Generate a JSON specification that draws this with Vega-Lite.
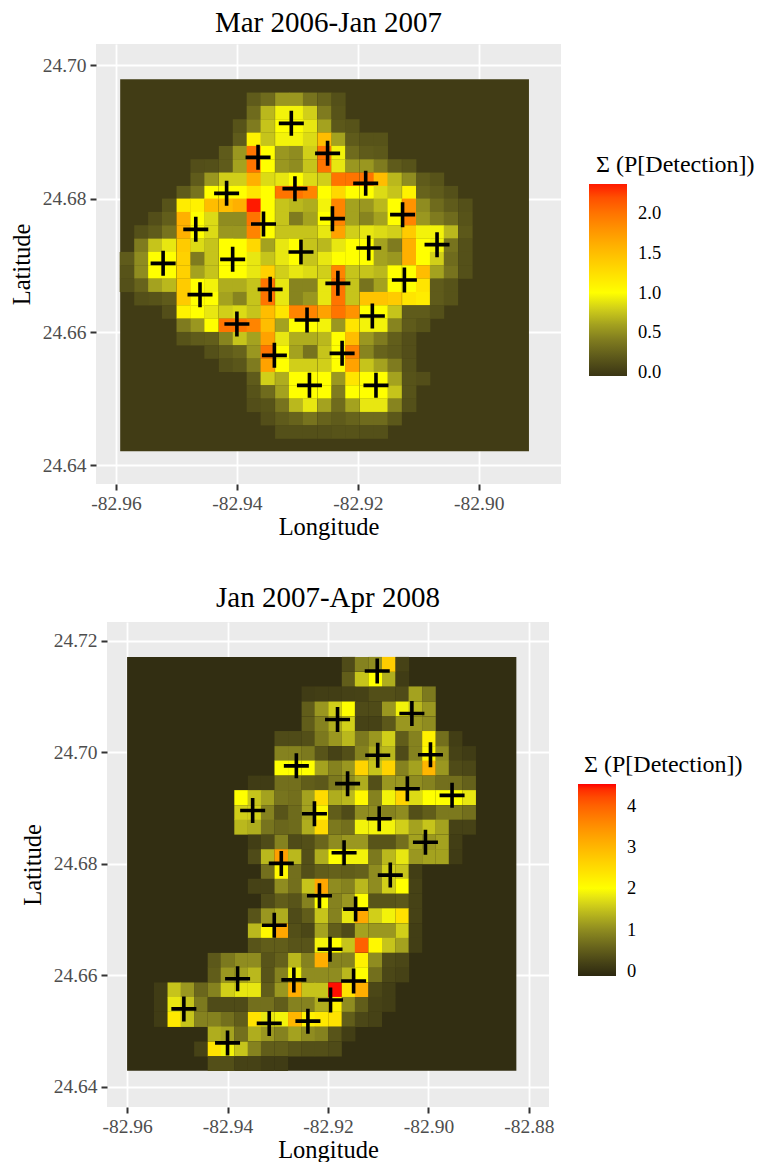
{"$schema":"https://vega.github.io/schema/vega-lite/v6.json","background":"white","padding":{"left":8,"top":9,"right":0,"bottom":0},
"config":{"font":"Liberation Serif","view":{"stroke":null,"fill":"#EBEBEB"},"title":{"font":"Liberation Serif","fontSize":29,"fontWeight":"normal","color":"black","anchor":"middle","offset":6},
"axis":{"labelFont":"Liberation Serif","titleFont":"Liberation Serif","labelFontSize":19.5,"titleFontSize":24.5,"titleFontWeight":"normal","labelColor":"#4D4D4D","titleColor":"black","tickColor":"#333333","tickSize":6,"tickWidth":2,"domain":false,"grid":true,"gridColor":"white","gridWidth":1.8,"labelPadding":4},
"legend":{"labelFont":"Liberation Serif","titleFont":"Liberation Serif","labelFontSize":18.5,"titleFontSize":24,"titleFontWeight":"normal","labelColor":"black","titleColor":"black"}},
"spacing":45,
"resolve":{"scale":{"color":"independent"},"legend":{"color":"independent"}},
"vconcat":[
{"spacing":0,"hconcat":[
{"width":1,"height":1,"data":{"values":[]},"mark":{"type":"point","opacity":0},"encoding":{},"view":{"fill":null}},
{
"title":"Mar 2006-Jan 2007","width":465,"height":440,
"encoding":{"x":{"field":"lon","type":"quantitative","title":"Longitude","scale":{"domain":[-82.9633,-82.8864],"nice":false,"zero":false},"axis":{"values":[-82.96,-82.94,-82.92,-82.90],"titlePadding":3,"labelExpr":"'-' + format(abs(datum.value),'.2f')"}},"y":{"field":"lat","type":"quantitative","title":"Latitude","scale":{"domain":[24.6372,24.7032],"nice":false,"zero":false},"axis":{"values":[24.64,24.66,24.68,24.70],"titlePadding":8,"format":".2f"}}},
"layer":[
{"data":{"values":[{"lon":-82.9593,"lonEnd":-82.8917,"lat":24.6421,"latEnd":24.6979,"v":0}]},"mark":{"type":"rect"},"encoding":{"x2":{"field":"lonEnd"},"y2":{"field":"latEnd"},"color":{"field":"v","type":"quantitative","scale":{"domain":[-0.05,0.5,1,2.37],"range":["#3a3514","#8f8c20","#ffff00","#ff1a00"],"interpolate":"lab"},"legend":{"title":"Σ (P[Detection])","orient":"none","legendX":581,"legendY":109,"gradientLength":192,"gradientThickness":38,"values":[0,0.5,1,1.5,2],"format":".1f","titlePadding":7,"labelOffset":11,"encoding":{"title":{"dx":{"value":7}}}}}}},
{"data":{"values":[
{"lon":-82.9372,"lat":24.6949,"v":0.2},{"lon":-82.9349,"lat":24.6949,"v":0.3},{"lon":-82.9325,"lat":24.6949,"v":0.55},{"lon":-82.9302,"lat":24.6949,"v":0.55},{"lon":-82.9279,"lat":24.6949,"v":0.35},{"lon":-82.9255,"lat":24.6949,"v":0.25},{"lon":-82.9232,"lat":24.6949,"v":0.13},
{"lon":-82.9372,"lat":24.6929,"v":0.3},{"lon":-82.9349,"lat":24.6929,"v":0.7},{"lon":-82.9325,"lat":24.6929,"v":0.95},{"lon":-82.9302,"lat":24.6929,"v":0.95},{"lon":-82.9279,"lat":24.6929,"v":0.8},{"lon":-82.9255,"lat":24.6929,"v":0.4},{"lon":-82.9232,"lat":24.6929,"v":0.15},
{"lon":-82.9395,"lat":24.6909,"v":0.15},{"lon":-82.9372,"lat":24.6909,"v":0.4},{"lon":-82.9349,"lat":24.6909,"v":0.75},{"lon":-82.9325,"lat":24.6909,"v":1},{"lon":-82.9302,"lat":24.6909,"v":1},{"lon":-82.9279,"lat":24.6909,"v":0.9},{"lon":-82.9255,"lat":24.6909,"v":0.6},{"lon":-82.9232,"lat":24.6909,"v":0.18},{"lon":-82.9209,"lat":24.6909,"v":0.15},
{"lon":-82.9395,"lat":24.6889,"v":0.2},{"lon":-82.9372,"lat":24.6889,"v":1.1},{"lon":-82.9349,"lat":24.6889,"v":0.75},{"lon":-82.9325,"lat":24.6889,"v":0.95},{"lon":-82.9302,"lat":24.6889,"v":0.95},{"lon":-82.9279,"lat":24.6889,"v":0.85},{"lon":-82.9255,"lat":24.6889,"v":1.5},{"lon":-82.9232,"lat":24.6889,"v":0.6},{"lon":-82.9209,"lat":24.6889,"v":0.2},{"lon":-82.9185,"lat":24.6889,"v":0.15},{"lon":-82.9162,"lat":24.6889,"v":0.15},
{"lon":-82.9418,"lat":24.6869,"v":0.2},{"lon":-82.9395,"lat":24.6869,"v":0.55},{"lon":-82.9372,"lat":24.6869,"v":2},{"lon":-82.9349,"lat":24.6869,"v":1},{"lon":-82.9325,"lat":24.6869,"v":0.55},{"lon":-82.9302,"lat":24.6869,"v":0.5},{"lon":-82.9279,"lat":24.6869,"v":0.8},{"lon":-82.9255,"lat":24.6869,"v":2},{"lon":-82.9232,"lat":24.6869,"v":0.95},{"lon":-82.9209,"lat":24.6869,"v":0.3},{"lon":-82.9185,"lat":24.6869,"v":0.2},{"lon":-82.9162,"lat":24.6869,"v":0.18},
{"lon":-82.9465,"lat":24.6849,"v":0.12},{"lon":-82.9442,"lat":24.6849,"v":0.13},{"lon":-82.9418,"lat":24.6849,"v":0.2},{"lon":-82.9395,"lat":24.6849,"v":0.6},{"lon":-82.9372,"lat":24.6849,"v":2},{"lon":-82.9349,"lat":24.6849,"v":1},{"lon":-82.9325,"lat":24.6849,"v":0.55},{"lon":-82.9302,"lat":24.6849,"v":0.5},{"lon":-82.9279,"lat":24.6849,"v":0.75},{"lon":-82.9255,"lat":24.6849,"v":2},{"lon":-82.9232,"lat":24.6849,"v":0.9},{"lon":-82.9209,"lat":24.6849,"v":0.55},{"lon":-82.9185,"lat":24.6849,"v":0.55},{"lon":-82.9162,"lat":24.6849,"v":0.4},{"lon":-82.9139,"lat":24.6849,"v":0.2},{"lon":-82.9115,"lat":24.6849,"v":0.15},
{"lon":-82.9465,"lat":24.6829,"v":0.2},{"lon":-82.9442,"lat":24.6829,"v":0.55},{"lon":-82.9418,"lat":24.6829,"v":0.8},{"lon":-82.9395,"lat":24.6829,"v":0.8},{"lon":-82.9372,"lat":24.6829,"v":1.6},{"lon":-82.9349,"lat":24.6829,"v":0.85},{"lon":-82.9325,"lat":24.6829,"v":0.9},{"lon":-82.9302,"lat":24.6829,"v":1},{"lon":-82.9279,"lat":24.6829,"v":0.85},{"lon":-82.9255,"lat":24.6829,"v":0.8},{"lon":-82.9232,"lat":24.6829,"v":2},{"lon":-82.9209,"lat":24.6829,"v":2},{"lon":-82.9185,"lat":24.6829,"v":2},{"lon":-82.9162,"lat":24.6829,"v":1.5},{"lon":-82.9139,"lat":24.6829,"v":0.7},{"lon":-82.9115,"lat":24.6829,"v":0.5},{"lon":-82.9092,"lat":24.6829,"v":0.2},{"lon":-82.9069,"lat":24.6829,"v":0.15},
{"lon":-82.9488,"lat":24.6809,"v":0.2},{"lon":-82.9465,"lat":24.6809,"v":0.35},{"lon":-82.9442,"lat":24.6809,"v":1},{"lon":-82.9418,"lat":24.6809,"v":1},{"lon":-82.9395,"lat":24.6809,"v":1},{"lon":-82.9372,"lat":24.6809,"v":1.2},{"lon":-82.9349,"lat":24.6809,"v":1},{"lon":-82.9325,"lat":24.6809,"v":2},{"lon":-82.9302,"lat":24.6809,"v":2},{"lon":-82.9279,"lat":24.6809,"v":1.9},{"lon":-82.9255,"lat":24.6809,"v":1},{"lon":-82.9232,"lat":24.6809,"v":1.3},{"lon":-82.9209,"lat":24.6809,"v":1},{"lon":-82.9185,"lat":24.6809,"v":1},{"lon":-82.9162,"lat":24.6809,"v":0.85},{"lon":-82.9139,"lat":24.6809,"v":0.75},{"lon":-82.9115,"lat":24.6809,"v":1.1},{"lon":-82.9092,"lat":24.6809,"v":0.25},{"lon":-82.9069,"lat":24.6809,"v":0.2},{"lon":-82.9046,"lat":24.6809,"v":0.13},
{"lon":-82.9512,"lat":24.679,"v":0.15},{"lon":-82.9488,"lat":24.679,"v":1.15},{"lon":-82.9465,"lat":24.679,"v":1.1},{"lon":-82.9442,"lat":24.679,"v":1.5},{"lon":-82.9418,"lat":24.679,"v":1.5},{"lon":-82.9395,"lat":24.679,"v":1.6},{"lon":-82.9372,"lat":24.679,"v":2.37},{"lon":-82.9349,"lat":24.679,"v":1},{"lon":-82.9325,"lat":24.679,"v":0.75},{"lon":-82.9302,"lat":24.679,"v":0.7},{"lon":-82.9279,"lat":24.679,"v":0.65},{"lon":-82.9255,"lat":24.679,"v":0.95},{"lon":-82.9232,"lat":24.679,"v":1.9},{"lon":-82.9209,"lat":24.679,"v":0.6},{"lon":-82.9185,"lat":24.679,"v":0.55},{"lon":-82.9162,"lat":24.679,"v":0.7},{"lon":-82.9139,"lat":24.679,"v":1},{"lon":-82.9115,"lat":24.679,"v":1.8},{"lon":-82.9092,"lat":24.679,"v":0.5},{"lon":-82.9069,"lat":24.679,"v":0.3},{"lon":-82.9046,"lat":24.679,"v":0.2},{"lon":-82.9022,"lat":24.679,"v":0.13},
{"lon":-82.9535,"lat":24.677,"v":0.12},{"lon":-82.9512,"lat":24.677,"v":0.22},{"lon":-82.9488,"lat":24.677,"v":1.6},{"lon":-82.9465,"lat":24.677,"v":1},{"lon":-82.9442,"lat":24.677,"v":0.85},{"lon":-82.9418,"lat":24.677,"v":0.5},{"lon":-82.9395,"lat":24.677,"v":0.5},{"lon":-82.9372,"lat":24.677,"v":2},{"lon":-82.9349,"lat":24.677,"v":1},{"lon":-82.9325,"lat":24.677,"v":0.75},{"lon":-82.9302,"lat":24.677,"v":0.4},{"lon":-82.9279,"lat":24.677,"v":0.6},{"lon":-82.9255,"lat":24.677,"v":1},{"lon":-82.9232,"lat":24.677,"v":1.9},{"lon":-82.9209,"lat":24.677,"v":0.6},{"lon":-82.9185,"lat":24.677,"v":0.45},{"lon":-82.9162,"lat":24.677,"v":0.6},{"lon":-82.9139,"lat":24.677,"v":1},{"lon":-82.9115,"lat":24.677,"v":1.9},{"lon":-82.9092,"lat":24.677,"v":0.55},{"lon":-82.9069,"lat":24.677,"v":0.4},{"lon":-82.9046,"lat":24.677,"v":0.3},{"lon":-82.9022,"lat":24.677,"v":0.15},
{"lon":-82.9558,"lat":24.675,"v":0.13},{"lon":-82.9535,"lat":24.675,"v":0.2},{"lon":-82.9512,"lat":24.675,"v":0.35},{"lon":-82.9488,"lat":24.675,"v":1.6},{"lon":-82.9465,"lat":24.675,"v":1},{"lon":-82.9442,"lat":24.675,"v":0.85},{"lon":-82.9418,"lat":24.675,"v":0.55},{"lon":-82.9395,"lat":24.675,"v":0.55},{"lon":-82.9372,"lat":24.675,"v":1.9},{"lon":-82.9349,"lat":24.675,"v":1},{"lon":-82.9325,"lat":24.675,"v":0.75},{"lon":-82.9302,"lat":24.675,"v":0.75},{"lon":-82.9279,"lat":24.675,"v":0.75},{"lon":-82.9255,"lat":24.675,"v":0.9},{"lon":-82.9232,"lat":24.675,"v":1.7},{"lon":-82.9209,"lat":24.675,"v":0.8},{"lon":-82.9185,"lat":24.675,"v":0.9},{"lon":-82.9162,"lat":24.675,"v":0.85},{"lon":-82.9139,"lat":24.675,"v":0.8},{"lon":-82.9115,"lat":24.675,"v":1.4},{"lon":-82.9092,"lat":24.675,"v":0.95},{"lon":-82.9069,"lat":24.675,"v":0.95},{"lon":-82.9046,"lat":24.675,"v":0.7},{"lon":-82.9022,"lat":24.675,"v":0.18},
{"lon":-82.9558,"lat":24.673,"v":0.4},{"lon":-82.9535,"lat":24.673,"v":0.75},{"lon":-82.9512,"lat":24.673,"v":0.9},{"lon":-82.9488,"lat":24.673,"v":1.4},{"lon":-82.9465,"lat":24.673,"v":0.85},{"lon":-82.9442,"lat":24.673,"v":0.75},{"lon":-82.9418,"lat":24.673,"v":1},{"lon":-82.9395,"lat":24.673,"v":1},{"lon":-82.9372,"lat":24.673,"v":1.3},{"lon":-82.9349,"lat":24.673,"v":0.6},{"lon":-82.9325,"lat":24.673,"v":0.9},{"lon":-82.9302,"lat":24.673,"v":1},{"lon":-82.9279,"lat":24.673,"v":0.75},{"lon":-82.9255,"lat":24.673,"v":0.7},{"lon":-82.9232,"lat":24.673,"v":0.9},{"lon":-82.9209,"lat":24.673,"v":1},{"lon":-82.9185,"lat":24.673,"v":1},{"lon":-82.9162,"lat":24.673,"v":0.6},{"lon":-82.9139,"lat":24.673,"v":0.4},{"lon":-82.9115,"lat":24.673,"v":1.6},{"lon":-82.9092,"lat":24.673,"v":1},{"lon":-82.9069,"lat":24.673,"v":0.95},{"lon":-82.9046,"lat":24.673,"v":0.35},{"lon":-82.9022,"lat":24.673,"v":0.13},
{"lon":-82.9582,"lat":24.671,"v":0.2},{"lon":-82.9558,"lat":24.671,"v":0.5},{"lon":-82.9535,"lat":24.671,"v":1},{"lon":-82.9512,"lat":24.671,"v":1},{"lon":-82.9488,"lat":24.671,"v":1.35},{"lon":-82.9465,"lat":24.671,"v":0.4},{"lon":-82.9442,"lat":24.671,"v":0.75},{"lon":-82.9418,"lat":24.671,"v":1},{"lon":-82.9395,"lat":24.671,"v":1},{"lon":-82.9372,"lat":24.671,"v":0.9},{"lon":-82.9349,"lat":24.671,"v":0.75},{"lon":-82.9325,"lat":24.671,"v":0.9},{"lon":-82.9302,"lat":24.671,"v":1},{"lon":-82.9279,"lat":24.671,"v":0.75},{"lon":-82.9255,"lat":24.671,"v":0.9},{"lon":-82.9232,"lat":24.671,"v":1},{"lon":-82.9209,"lat":24.671,"v":1},{"lon":-82.9185,"lat":24.671,"v":1},{"lon":-82.9162,"lat":24.671,"v":0.6},{"lon":-82.9139,"lat":24.671,"v":0.55},{"lon":-82.9115,"lat":24.671,"v":1.6},{"lon":-82.9092,"lat":24.671,"v":1},{"lon":-82.9069,"lat":24.671,"v":0.8},{"lon":-82.9046,"lat":24.671,"v":0.3},{"lon":-82.9022,"lat":24.671,"v":0.13},
{"lon":-82.9582,"lat":24.669,"v":0.15},{"lon":-82.9558,"lat":24.669,"v":0.5},{"lon":-82.9535,"lat":24.669,"v":1},{"lon":-82.9512,"lat":24.669,"v":1},{"lon":-82.9488,"lat":24.669,"v":1.35},{"lon":-82.9465,"lat":24.669,"v":0.6},{"lon":-82.9442,"lat":24.669,"v":0.75},{"lon":-82.9418,"lat":24.669,"v":1},{"lon":-82.9395,"lat":24.669,"v":1},{"lon":-82.9372,"lat":24.669,"v":0.9},{"lon":-82.9349,"lat":24.669,"v":1.35},{"lon":-82.9325,"lat":24.669,"v":0.8},{"lon":-82.9302,"lat":24.669,"v":0.9},{"lon":-82.9279,"lat":24.669,"v":0.85},{"lon":-82.9255,"lat":24.669,"v":0.8},{"lon":-82.9232,"lat":24.669,"v":1.9},{"lon":-82.9209,"lat":24.669,"v":0.75},{"lon":-82.9185,"lat":24.669,"v":0.75},{"lon":-82.9162,"lat":24.669,"v":0.7},{"lon":-82.9139,"lat":24.669,"v":1},{"lon":-82.9115,"lat":24.669,"v":1},{"lon":-82.9092,"lat":24.669,"v":1.5},{"lon":-82.9069,"lat":24.669,"v":0.6},{"lon":-82.9046,"lat":24.669,"v":0.35},{"lon":-82.9022,"lat":24.669,"v":0.13},
{"lon":-82.9582,"lat":24.667,"v":0.13},{"lon":-82.9558,"lat":24.667,"v":0.25},{"lon":-82.9535,"lat":24.667,"v":0.6},{"lon":-82.9512,"lat":24.667,"v":0.7},{"lon":-82.9488,"lat":24.667,"v":1.4},{"lon":-82.9465,"lat":24.667,"v":1},{"lon":-82.9442,"lat":24.667,"v":0.95},{"lon":-82.9418,"lat":24.667,"v":0.65},{"lon":-82.9395,"lat":24.667,"v":0.65},{"lon":-82.9372,"lat":24.667,"v":0.75},{"lon":-82.9349,"lat":24.667,"v":2},{"lon":-82.9325,"lat":24.667,"v":0.9},{"lon":-82.9302,"lat":24.667,"v":0.45},{"lon":-82.9279,"lat":24.667,"v":0.45},{"lon":-82.9255,"lat":24.667,"v":0.9},{"lon":-82.9232,"lat":24.667,"v":2},{"lon":-82.9209,"lat":24.667,"v":0.75},{"lon":-82.9185,"lat":24.667,"v":0.35},{"lon":-82.9162,"lat":24.667,"v":0.6},{"lon":-82.9139,"lat":24.667,"v":1},{"lon":-82.9115,"lat":24.667,"v":1},{"lon":-82.9092,"lat":24.667,"v":1.2},{"lon":-82.9069,"lat":24.667,"v":0.2},{"lon":-82.9046,"lat":24.667,"v":0.15},
{"lon":-82.9558,"lat":24.665,"v":0.13},{"lon":-82.9535,"lat":24.665,"v":0.15},{"lon":-82.9512,"lat":24.665,"v":0.2},{"lon":-82.9488,"lat":24.665,"v":1.4},{"lon":-82.9465,"lat":24.665,"v":1},{"lon":-82.9442,"lat":24.665,"v":1},{"lon":-82.9418,"lat":24.665,"v":0.6},{"lon":-82.9395,"lat":24.665,"v":0.45},{"lon":-82.9372,"lat":24.665,"v":0.75},{"lon":-82.9349,"lat":24.665,"v":2},{"lon":-82.9325,"lat":24.665,"v":0.9},{"lon":-82.9302,"lat":24.665,"v":0.45},{"lon":-82.9279,"lat":24.665,"v":0.55},{"lon":-82.9255,"lat":24.665,"v":0.9},{"lon":-82.9232,"lat":24.665,"v":2},{"lon":-82.9209,"lat":24.665,"v":0.75},{"lon":-82.9185,"lat":24.665,"v":1.45},{"lon":-82.9162,"lat":24.665,"v":1.45},{"lon":-82.9139,"lat":24.665,"v":1.4},{"lon":-82.9115,"lat":24.665,"v":1.2},{"lon":-82.9092,"lat":24.665,"v":1.15},{"lon":-82.9069,"lat":24.665,"v":0.2},{"lon":-82.9046,"lat":24.665,"v":0.15},
{"lon":-82.9512,"lat":24.663,"v":0.12},{"lon":-82.9488,"lat":24.663,"v":1.1},{"lon":-82.9465,"lat":24.663,"v":1},{"lon":-82.9442,"lat":24.663,"v":0.9},{"lon":-82.9418,"lat":24.663,"v":0.8},{"lon":-82.9395,"lat":24.663,"v":0.85},{"lon":-82.9372,"lat":24.663,"v":0.75},{"lon":-82.9349,"lat":24.663,"v":1.5},{"lon":-82.9325,"lat":24.663,"v":1.2},{"lon":-82.9302,"lat":24.663,"v":1.9},{"lon":-82.9279,"lat":24.663,"v":1.9},{"lon":-82.9255,"lat":24.663,"v":1.7},{"lon":-82.9232,"lat":24.663,"v":2},{"lon":-82.9209,"lat":24.663,"v":1.8},{"lon":-82.9185,"lat":24.663,"v":1},{"lon":-82.9162,"lat":24.663,"v":1},{"lon":-82.9139,"lat":24.663,"v":0.75},{"lon":-82.9115,"lat":24.663,"v":0.2},{"lon":-82.9092,"lat":24.663,"v":0.2},{"lon":-82.9069,"lat":24.663,"v":0.13},
{"lon":-82.9488,"lat":24.661,"v":0.4},{"lon":-82.9465,"lat":24.661,"v":0.55},{"lon":-82.9442,"lat":24.661,"v":1},{"lon":-82.9418,"lat":24.661,"v":2},{"lon":-82.9395,"lat":24.661,"v":2},{"lon":-82.9372,"lat":24.661,"v":1.9},{"lon":-82.9349,"lat":24.661,"v":1.5},{"lon":-82.9325,"lat":24.661,"v":0.6},{"lon":-82.9302,"lat":24.661,"v":1},{"lon":-82.9279,"lat":24.661,"v":1},{"lon":-82.9255,"lat":24.661,"v":0.95},{"lon":-82.9232,"lat":24.661,"v":0.55},{"lon":-82.9209,"lat":24.661,"v":1.2},{"lon":-82.9185,"lat":24.661,"v":0.95},{"lon":-82.9162,"lat":24.661,"v":0.95},{"lon":-82.9139,"lat":24.661,"v":0.45},{"lon":-82.9115,"lat":24.661,"v":0.2},{"lon":-82.9092,"lat":24.661,"v":0.15},
{"lon":-82.9488,"lat":24.659,"v":0.15},{"lon":-82.9465,"lat":24.659,"v":0.2},{"lon":-82.9442,"lat":24.659,"v":0.22},{"lon":-82.9418,"lat":24.659,"v":0.45},{"lon":-82.9395,"lat":24.659,"v":0.75},{"lon":-82.9372,"lat":24.659,"v":0.6},{"lon":-82.9349,"lat":24.659,"v":1.7},{"lon":-82.9325,"lat":24.659,"v":0.9},{"lon":-82.9302,"lat":24.659,"v":0.65},{"lon":-82.9279,"lat":24.659,"v":0.65},{"lon":-82.9255,"lat":24.659,"v":0.7},{"lon":-82.9232,"lat":24.659,"v":1},{"lon":-82.9209,"lat":24.659,"v":1.5},{"lon":-82.9185,"lat":24.659,"v":0.55},{"lon":-82.9162,"lat":24.659,"v":0.4},{"lon":-82.9139,"lat":24.659,"v":0.22},{"lon":-82.9115,"lat":24.659,"v":0.12},
{"lon":-82.9442,"lat":24.657,"v":0.13},{"lon":-82.9418,"lat":24.657,"v":0.2},{"lon":-82.9395,"lat":24.657,"v":0.25},{"lon":-82.9372,"lat":24.657,"v":0.55},{"lon":-82.9349,"lat":24.657,"v":2},{"lon":-82.9325,"lat":24.657,"v":1},{"lon":-82.9302,"lat":24.657,"v":0.6},{"lon":-82.9279,"lat":24.657,"v":0.35},{"lon":-82.9255,"lat":24.657,"v":0.75},{"lon":-82.9232,"lat":24.657,"v":1},{"lon":-82.9209,"lat":24.657,"v":1.9},{"lon":-82.9185,"lat":24.657,"v":0.45},{"lon":-82.9162,"lat":24.657,"v":0.25},{"lon":-82.9139,"lat":24.657,"v":0.2},{"lon":-82.9115,"lat":24.657,"v":0.12},
{"lon":-82.9418,"lat":24.655,"v":0.13},{"lon":-82.9395,"lat":24.655,"v":0.17},{"lon":-82.9372,"lat":24.655,"v":0.4},{"lon":-82.9349,"lat":24.655,"v":1.7},{"lon":-82.9325,"lat":24.655,"v":1},{"lon":-82.9302,"lat":24.655,"v":0.8},{"lon":-82.9279,"lat":24.655,"v":0.8},{"lon":-82.9255,"lat":24.655,"v":0.8},{"lon":-82.9232,"lat":24.655,"v":1},{"lon":-82.9209,"lat":24.655,"v":1.7},{"lon":-82.9185,"lat":24.655,"v":0.75},{"lon":-82.9162,"lat":24.655,"v":0.6},{"lon":-82.9139,"lat":24.655,"v":0.4},{"lon":-82.9115,"lat":24.655,"v":0.13},
{"lon":-82.9372,"lat":24.653,"v":0.2},{"lon":-82.9349,"lat":24.653,"v":0.8},{"lon":-82.9325,"lat":24.653,"v":0.65},{"lon":-82.9302,"lat":24.653,"v":1},{"lon":-82.9279,"lat":24.653,"v":1},{"lon":-82.9255,"lat":24.653,"v":1},{"lon":-82.9232,"lat":24.653,"v":0.55},{"lon":-82.9209,"lat":24.653,"v":1.2},{"lon":-82.9185,"lat":24.653,"v":1},{"lon":-82.9162,"lat":24.653,"v":1},{"lon":-82.9139,"lat":24.653,"v":0.6},{"lon":-82.9115,"lat":24.653,"v":0.15},{"lon":-82.9092,"lat":24.653,"v":0.12},
{"lon":-82.9372,"lat":24.651,"v":0.15},{"lon":-82.9349,"lat":24.651,"v":0.3},{"lon":-82.9325,"lat":24.651,"v":0.6},{"lon":-82.9302,"lat":24.651,"v":1},{"lon":-82.9279,"lat":24.651,"v":1},{"lon":-82.9255,"lat":24.651,"v":1},{"lon":-82.9232,"lat":24.651,"v":0.4},{"lon":-82.9209,"lat":24.651,"v":1},{"lon":-82.9185,"lat":24.651,"v":1},{"lon":-82.9162,"lat":24.651,"v":1},{"lon":-82.9139,"lat":24.651,"v":0.75},{"lon":-82.9115,"lat":24.651,"v":0.15},
{"lon":-82.9372,"lat":24.649,"v":0.12},{"lon":-82.9349,"lat":24.649,"v":0.15},{"lon":-82.9325,"lat":24.649,"v":0.35},{"lon":-82.9302,"lat":24.649,"v":0.7},{"lon":-82.9279,"lat":24.649,"v":0.9},{"lon":-82.9255,"lat":24.649,"v":0.6},{"lon":-82.9232,"lat":24.649,"v":0.3},{"lon":-82.9209,"lat":24.649,"v":0.6},{"lon":-82.9185,"lat":24.649,"v":0.9},{"lon":-82.9162,"lat":24.649,"v":0.9},{"lon":-82.9139,"lat":24.649,"v":0.45},{"lon":-82.9115,"lat":24.649,"v":0.13},
{"lon":-82.9349,"lat":24.647,"v":0.12},{"lon":-82.9325,"lat":24.647,"v":0.2},{"lon":-82.9302,"lat":24.647,"v":0.25},{"lon":-82.9279,"lat":24.647,"v":0.35},{"lon":-82.9255,"lat":24.647,"v":0.25},{"lon":-82.9232,"lat":24.647,"v":0.2},{"lon":-82.9209,"lat":24.647,"v":0.25},{"lon":-82.9185,"lat":24.647,"v":0.3},{"lon":-82.9162,"lat":24.647,"v":0.3},{"lon":-82.9139,"lat":24.647,"v":0.18},
{"lon":-82.9325,"lat":24.645,"v":0.13},{"lon":-82.9302,"lat":24.645,"v":0.13},{"lon":-82.9279,"lat":24.645,"v":0.13},{"lon":-82.9255,"lat":24.645,"v":0.13},{"lon":-82.9232,"lat":24.645,"v":0.15},{"lon":-82.9209,"lat":24.645,"v":0.15},{"lon":-82.9185,"lat":24.645,"v":0.13},{"lon":-82.9162,"lat":24.645,"v":0.13}
]},"mark":{"type":"rect","width":14.3,"height":13.5},"encoding":{"color":{"field":"v","type":"quantitative"}}},
{"data":{"values":[{"lon":-82.931,"lat":24.6913},{"lon":-82.9365,"lat":24.6862},{"lon":-82.925,"lat":24.6868},{"lon":-82.9417,"lat":24.6808},{"lon":-82.9304,"lat":24.6815},{"lon":-82.9187,"lat":24.6823},{"lon":-82.9468,"lat":24.6754},{"lon":-82.9356,"lat":24.6762},{"lon":-82.9242,"lat":24.677},{"lon":-82.9126,"lat":24.6776},{"lon":-82.9069,"lat":24.6731},{"lon":-82.9522,"lat":24.6703},{"lon":-82.9407,"lat":24.6709},{"lon":-82.9294,"lat":24.672},{"lon":-82.9182,"lat":24.6726},{"lon":-82.9123,"lat":24.6678},{"lon":-82.9461,"lat":24.6656},{"lon":-82.9345,"lat":24.6664},{"lon":-82.9233,"lat":24.6673},{"lon":-82.9176,"lat":24.6624},{"lon":-82.94,"lat":24.6612},{"lon":-82.9284,"lat":24.6618},{"lon":-82.9338,"lat":24.6565},{"lon":-82.9226,"lat":24.6568},{"lon":-82.928,"lat":24.652},{"lon":-82.917,"lat":24.652}]},"mark":{"type":"point","shape":"M-1,0H1M0,-1V1","stroke":"black","strokeWidth":3.6,"size":625,"opacity":1,"fill":null,"filled":false}}
]}]},
{"spacing":0,"hconcat":[
{"width":12,"height":1,"data":{"values":[]},"mark":{"type":"point","opacity":0},"encoding":{},"view":{"fill":null}},
{"title":{"text":"Jan 2007-Apr 2008","offset":9},"width":442,"height":485,
"encoding":{"x":{"field":"lon","type":"quantitative","title":"Longitude","scale":{"domain":[-82.964,-82.876],"nice":false,"zero":false},"axis":{"values":[-82.96,-82.94,-82.92,-82.90,-82.88],"titlePadding":3,"labelExpr":"'-' + format(abs(datum.value),'.2f')"}},"y":{"field":"lat","type":"quantitative","title":"Latitude","scale":{"domain":[24.6364,24.7234],"nice":false,"zero":false},"axis":{"values":[24.64,24.66,24.68,24.70,24.72],"titlePadding":8,"format":".2f"}}},
"layer":[
{"data":{"values":[{"lon":-82.96,"lonEnd":-82.8825,"lat":24.6429,"latEnd":24.7171,"v":-0.05}]},"mark":{"type":"rect"},"encoding":{"x2":{"field":"lonEnd"},"y2":{"field":"latEnd"},"color":{"field":"v","type":"quantitative","scale":{"domain":[-0.12,1,2,4.52],"range":["#2c2810","#8f8c20","#ffff00","#ff0000"],"interpolate":"lab"},"legend":{"title":"Σ (P[Detection])","orient":"none","legendX":570,"legendY":131,"gradientLength":192,"gradientThickness":38,"values":[0,1,2,3,4],"titlePadding":7,"labelOffset":11,"encoding":{"title":{"dx":{"value":6}}}}}}},
{"data":{"values":[
{"lon":-82.9159,"lat":24.7158,"v":0.3},{"lon":-82.9133,"lat":24.7158,"v":0.9},{"lon":-82.9106,"lat":24.7158,"v":1},{"lon":-82.9079,"lat":24.7158,"v":2.7},{"lon":-82.9052,"lat":24.7158,"v":0.2},
{"lon":-82.9159,"lat":24.7131,"v":0.5},{"lon":-82.9133,"lat":24.7131,"v":1.5},{"lon":-82.9106,"lat":24.7131,"v":2},{"lon":-82.9079,"lat":24.7131,"v":1.3},{"lon":-82.9052,"lat":24.7131,"v":0.12},
{"lon":-82.9239,"lat":24.7105,"v":0.12},{"lon":-82.9213,"lat":24.7105,"v":0.15},{"lon":-82.9186,"lat":24.7105,"v":0.15},{"lon":-82.9159,"lat":24.7105,"v":0.18},{"lon":-82.9133,"lat":24.7105,"v":0.2},{"lon":-82.9106,"lat":24.7105,"v":0.35},{"lon":-82.9079,"lat":24.7105,"v":0.35},{"lon":-82.9052,"lat":24.7105,"v":0.3},{"lon":-82.9026,"lat":24.7105,"v":1.2},{"lon":-82.8999,"lat":24.7105,"v":0.8},
{"lon":-82.9239,"lat":24.7078,"v":0.5},{"lon":-82.9213,"lat":24.7078,"v":1.1},{"lon":-82.9186,"lat":24.7078,"v":1.6},{"lon":-82.9159,"lat":24.7078,"v":2},{"lon":-82.9133,"lat":24.7078,"v":0.3},{"lon":-82.9106,"lat":24.7078,"v":0.3},{"lon":-82.9079,"lat":24.7078,"v":1.1},{"lon":-82.9052,"lat":24.7078,"v":1.9},{"lon":-82.9026,"lat":24.7078,"v":1.4},{"lon":-82.8999,"lat":24.7078,"v":1.1},
{"lon":-82.9239,"lat":24.7051,"v":0.5},{"lon":-82.9213,"lat":24.7051,"v":0.9},{"lon":-82.9186,"lat":24.7051,"v":1.3},{"lon":-82.9159,"lat":24.7051,"v":1.6},{"lon":-82.9133,"lat":24.7051,"v":0.2},{"lon":-82.9106,"lat":24.7051,"v":0.2},{"lon":-82.9079,"lat":24.7051,"v":0.45},{"lon":-82.9052,"lat":24.7051,"v":1.1},{"lon":-82.9026,"lat":24.7051,"v":1.1},{"lon":-82.8999,"lat":24.7051,"v":1},
{"lon":-82.9293,"lat":24.7025,"v":0.3},{"lon":-82.9266,"lat":24.7025,"v":0.3},{"lon":-82.9239,"lat":24.7025,"v":0.35},{"lon":-82.9213,"lat":24.7025,"v":0.8},{"lon":-82.9186,"lat":24.7025,"v":1.1},{"lon":-82.9159,"lat":24.7025,"v":1.4},{"lon":-82.9133,"lat":24.7025,"v":0.8},{"lon":-82.9106,"lat":24.7025,"v":1.1},{"lon":-82.9079,"lat":24.7025,"v":1.6},{"lon":-82.9052,"lat":24.7025,"v":0.5},{"lon":-82.9026,"lat":24.7025,"v":0.9},{"lon":-82.8999,"lat":24.7025,"v":2.2},{"lon":-82.8972,"lat":24.7025,"v":0.7},{"lon":-82.8946,"lat":24.7025,"v":0.15},
{"lon":-82.9293,"lat":24.6998,"v":0.9},{"lon":-82.9266,"lat":24.6998,"v":0.9},{"lon":-82.9239,"lat":24.6998,"v":0.8},{"lon":-82.9213,"lat":24.6998,"v":0.4},{"lon":-82.9186,"lat":24.6998,"v":0.2},{"lon":-82.9159,"lat":24.6998,"v":0.35},{"lon":-82.9133,"lat":24.6998,"v":0.9},{"lon":-82.9106,"lat":24.6998,"v":1.3},{"lon":-82.9079,"lat":24.6998,"v":1.4},{"lon":-82.9052,"lat":24.6998,"v":0.3},{"lon":-82.9026,"lat":24.6998,"v":0.9},{"lon":-82.8999,"lat":24.6998,"v":2.1},{"lon":-82.8972,"lat":24.6998,"v":1},{"lon":-82.8946,"lat":24.6998,"v":0.2},{"lon":-82.8919,"lat":24.6998,"v":0.12},
{"lon":-82.9293,"lat":24.6972,"v":2},{"lon":-82.9266,"lat":24.6972,"v":2},{"lon":-82.9239,"lat":24.6972,"v":2},{"lon":-82.9213,"lat":24.6972,"v":1.2},{"lon":-82.9186,"lat":24.6972,"v":0.9},{"lon":-82.9159,"lat":24.6972,"v":1.1},{"lon":-82.9133,"lat":24.6972,"v":2.6},{"lon":-82.9106,"lat":24.6972,"v":1.5},{"lon":-82.9079,"lat":24.6972,"v":2.6},{"lon":-82.9052,"lat":24.6972,"v":0.9},{"lon":-82.9026,"lat":24.6972,"v":1.2},{"lon":-82.8999,"lat":24.6972,"v":3},{"lon":-82.8972,"lat":24.6972,"v":1.1},{"lon":-82.8946,"lat":24.6972,"v":0.3},{"lon":-82.8919,"lat":24.6972,"v":0.25},
{"lon":-82.9346,"lat":24.6945,"v":0.12},{"lon":-82.932,"lat":24.6945,"v":0.12},{"lon":-82.9293,"lat":24.6945,"v":0.7},{"lon":-82.9266,"lat":24.6945,"v":0.7},{"lon":-82.9239,"lat":24.6945,"v":0.5},{"lon":-82.9213,"lat":24.6945,"v":0.45},{"lon":-82.9186,"lat":24.6945,"v":0.8},{"lon":-82.9159,"lat":24.6945,"v":1},{"lon":-82.9133,"lat":24.6945,"v":1.3},{"lon":-82.9106,"lat":24.6945,"v":0.35},{"lon":-82.9079,"lat":24.6945,"v":1.1},{"lon":-82.9052,"lat":24.6945,"v":1.1},{"lon":-82.9026,"lat":24.6945,"v":1},{"lon":-82.8999,"lat":24.6945,"v":0.9},{"lon":-82.8972,"lat":24.6945,"v":0.7},{"lon":-82.8946,"lat":24.6945,"v":0.7},{"lon":-82.8919,"lat":24.6945,"v":0.55},
{"lon":-82.9373,"lat":24.6919,"v":2},{"lon":-82.9346,"lat":24.6919,"v":1.5},{"lon":-82.932,"lat":24.6919,"v":1.2},{"lon":-82.9293,"lat":24.6919,"v":0.75},{"lon":-82.9266,"lat":24.6919,"v":0.7},{"lon":-82.9239,"lat":24.6919,"v":1.2},{"lon":-82.9213,"lat":24.6919,"v":2.5},{"lon":-82.9186,"lat":24.6919,"v":1.3},{"lon":-82.9159,"lat":24.6919,"v":1.4},{"lon":-82.9133,"lat":24.6919,"v":2.1},{"lon":-82.9106,"lat":24.6919,"v":0.9},{"lon":-82.9079,"lat":24.6919,"v":1.9},{"lon":-82.9052,"lat":24.6919,"v":2.6},{"lon":-82.9026,"lat":24.6919,"v":1.7},{"lon":-82.8999,"lat":24.6919,"v":2},{"lon":-82.8972,"lat":24.6919,"v":2},{"lon":-82.8946,"lat":24.6919,"v":2},{"lon":-82.8919,"lat":24.6919,"v":1.8},
{"lon":-82.9373,"lat":24.6892,"v":1.6},{"lon":-82.9346,"lat":24.6892,"v":1.6},{"lon":-82.932,"lat":24.6892,"v":0.9},{"lon":-82.9293,"lat":24.6892,"v":0.4},{"lon":-82.9266,"lat":24.6892,"v":0.65},{"lon":-82.9239,"lat":24.6892,"v":1.2},{"lon":-82.9213,"lat":24.6892,"v":2.1},{"lon":-82.9186,"lat":24.6892,"v":0.5},{"lon":-82.9159,"lat":24.6892,"v":0.3},{"lon":-82.9133,"lat":24.6892,"v":1},{"lon":-82.9106,"lat":24.6892,"v":1},{"lon":-82.9079,"lat":24.6892,"v":0.9},{"lon":-82.9052,"lat":24.6892,"v":1},{"lon":-82.9026,"lat":24.6892,"v":0.35},{"lon":-82.8999,"lat":24.6892,"v":0.5},{"lon":-82.8972,"lat":24.6892,"v":0.8},{"lon":-82.8946,"lat":24.6892,"v":0.8},{"lon":-82.8919,"lat":24.6892,"v":0.7},
{"lon":-82.9373,"lat":24.6866,"v":1.4},{"lon":-82.9346,"lat":24.6866,"v":1.3},{"lon":-82.932,"lat":24.6866,"v":0.75},{"lon":-82.9293,"lat":24.6866,"v":0.6},{"lon":-82.9266,"lat":24.6866,"v":0.65},{"lon":-82.9239,"lat":24.6866,"v":1.3},{"lon":-82.9213,"lat":24.6866,"v":2.5},{"lon":-82.9186,"lat":24.6866,"v":0.8},{"lon":-82.9159,"lat":24.6866,"v":0.7},{"lon":-82.9133,"lat":24.6866,"v":1.9},{"lon":-82.9106,"lat":24.6866,"v":1.9},{"lon":-82.9079,"lat":24.6866,"v":1.9},{"lon":-82.9052,"lat":24.6866,"v":1.6},{"lon":-82.9026,"lat":24.6866,"v":1.2},{"lon":-82.8999,"lat":24.6866,"v":1.5},{"lon":-82.8972,"lat":24.6866,"v":1.2},{"lon":-82.8946,"lat":24.6866,"v":0.2},{"lon":-82.8919,"lat":24.6866,"v":0.2},
{"lon":-82.9346,"lat":24.6839,"v":0.15},{"lon":-82.932,"lat":24.6839,"v":0.3},{"lon":-82.9293,"lat":24.6839,"v":0.9},{"lon":-82.9266,"lat":24.6839,"v":0.3},{"lon":-82.9239,"lat":24.6839,"v":0.35},{"lon":-82.9213,"lat":24.6839,"v":0.6},{"lon":-82.9186,"lat":24.6839,"v":1},{"lon":-82.9159,"lat":24.6839,"v":1.1},{"lon":-82.9133,"lat":24.6839,"v":1.1},{"lon":-82.9106,"lat":24.6839,"v":0.4},{"lon":-82.9079,"lat":24.6839,"v":0.4},{"lon":-82.9052,"lat":24.6839,"v":0.7},{"lon":-82.9026,"lat":24.6839,"v":1.2},{"lon":-82.8999,"lat":24.6839,"v":1.1},{"lon":-82.8972,"lat":24.6839,"v":1.2},{"lon":-82.8946,"lat":24.6839,"v":0.15},
{"lon":-82.9346,"lat":24.6813,"v":0.3},{"lon":-82.932,"lat":24.6813,"v":1.4},{"lon":-82.9293,"lat":24.6813,"v":3.3},{"lon":-82.9266,"lat":24.6813,"v":1.4},{"lon":-82.9239,"lat":24.6813,"v":0.35},{"lon":-82.9213,"lat":24.6813,"v":1.3},{"lon":-82.9186,"lat":24.6813,"v":2},{"lon":-82.9159,"lat":24.6813,"v":1.9},{"lon":-82.9133,"lat":24.6813,"v":1.9},{"lon":-82.9106,"lat":24.6813,"v":0.8},{"lon":-82.9079,"lat":24.6813,"v":1.4},{"lon":-82.9052,"lat":24.6813,"v":1.8},{"lon":-82.9026,"lat":24.6813,"v":1.1},{"lon":-82.8999,"lat":24.6813,"v":1.2},{"lon":-82.8972,"lat":24.6813,"v":1.2},{"lon":-82.8946,"lat":24.6813,"v":0.12},
{"lon":-82.932,"lat":24.6786,"v":0.7},{"lon":-82.9293,"lat":24.6786,"v":2.1},{"lon":-82.9266,"lat":24.6786,"v":0.7},{"lon":-82.9239,"lat":24.6786,"v":0.35},{"lon":-82.9213,"lat":24.6786,"v":0.5},{"lon":-82.9186,"lat":24.6786,"v":0.55},{"lon":-82.9159,"lat":24.6786,"v":0.5},{"lon":-82.9133,"lat":24.6786,"v":0.55},{"lon":-82.9106,"lat":24.6786,"v":1},{"lon":-82.9079,"lat":24.6786,"v":1.6},{"lon":-82.9052,"lat":24.6786,"v":1.5},{"lon":-82.9026,"lat":24.6786,"v":0.15},
{"lon":-82.9346,"lat":24.676,"v":0.2},{"lon":-82.932,"lat":24.676,"v":0.2},{"lon":-82.9293,"lat":24.676,"v":1},{"lon":-82.9266,"lat":24.676,"v":0.7},{"lon":-82.9239,"lat":24.676,"v":1.5},{"lon":-82.9213,"lat":24.676,"v":3.2},{"lon":-82.9186,"lat":24.676,"v":1},{"lon":-82.9159,"lat":24.676,"v":0.9},{"lon":-82.9133,"lat":24.676,"v":1.4},{"lon":-82.9106,"lat":24.676,"v":1},{"lon":-82.9079,"lat":24.676,"v":1.6},{"lon":-82.9052,"lat":24.676,"v":2},{"lon":-82.9026,"lat":24.676,"v":0.2},
{"lon":-82.932,"lat":24.6733,"v":0.3},{"lon":-82.9293,"lat":24.6733,"v":0.5},{"lon":-82.9266,"lat":24.6733,"v":0.4},{"lon":-82.9239,"lat":24.6733,"v":0.9},{"lon":-82.9213,"lat":24.6733,"v":2},{"lon":-82.9186,"lat":24.6733,"v":0.9},{"lon":-82.9159,"lat":24.6733,"v":1.1},{"lon":-82.9133,"lat":24.6733,"v":2},{"lon":-82.9106,"lat":24.6733,"v":0.4},{"lon":-82.9079,"lat":24.6733,"v":0.4},{"lon":-82.9052,"lat":24.6733,"v":0.45},{"lon":-82.9026,"lat":24.6733,"v":0.2},
{"lon":-82.9346,"lat":24.6707,"v":0.4},{"lon":-82.932,"lat":24.6707,"v":1.1},{"lon":-82.9293,"lat":24.6707,"v":1.3},{"lon":-82.9266,"lat":24.6707,"v":0.3},{"lon":-82.9239,"lat":24.6707,"v":0.5},{"lon":-82.9213,"lat":24.6707,"v":1.5},{"lon":-82.9186,"lat":24.6707,"v":0.9},{"lon":-82.9159,"lat":24.6707,"v":1.8},{"lon":-82.9133,"lat":24.6707,"v":3.2},{"lon":-82.9106,"lat":24.6707,"v":1.6},{"lon":-82.9079,"lat":24.6707,"v":1.9},{"lon":-82.9052,"lat":24.6707,"v":2.4},{"lon":-82.9026,"lat":24.6707,"v":0.2},
{"lon":-82.9346,"lat":24.668,"v":1.4},{"lon":-82.932,"lat":24.668,"v":2.1},{"lon":-82.9293,"lat":24.668,"v":3.2},{"lon":-82.9266,"lat":24.668,"v":0.35},{"lon":-82.9239,"lat":24.668,"v":0.25},{"lon":-82.9213,"lat":24.668,"v":1.2},{"lon":-82.9186,"lat":24.668,"v":0.5},{"lon":-82.9159,"lat":24.668,"v":0.3},{"lon":-82.9133,"lat":24.668,"v":1.2},{"lon":-82.9106,"lat":24.668,"v":1.1},{"lon":-82.9079,"lat":24.668,"v":1.1},{"lon":-82.9052,"lat":24.668,"v":1.6},{"lon":-82.9026,"lat":24.668,"v":0.15},
{"lon":-82.9346,"lat":24.6654,"v":0.4},{"lon":-82.932,"lat":24.6654,"v":0.5},{"lon":-82.9293,"lat":24.6654,"v":0.5},{"lon":-82.9266,"lat":24.6654,"v":0.4},{"lon":-82.9239,"lat":24.6654,"v":0.4},{"lon":-82.9213,"lat":24.6654,"v":1.9},{"lon":-82.9186,"lat":24.6654,"v":2},{"lon":-82.9159,"lat":24.6654,"v":1.5},{"lon":-82.9133,"lat":24.6654,"v":4},{"lon":-82.9106,"lat":24.6654,"v":2.1},{"lon":-82.9079,"lat":24.6654,"v":1.5},{"lon":-82.9052,"lat":24.6654,"v":1.2},{"lon":-82.9026,"lat":24.6654,"v":0.15},
{"lon":-82.9426,"lat":24.6627,"v":0.45},{"lon":-82.94,"lat":24.6627,"v":0.8},{"lon":-82.9373,"lat":24.6627,"v":1},{"lon":-82.9346,"lat":24.6627,"v":1},{"lon":-82.932,"lat":24.6627,"v":0.4},{"lon":-82.9293,"lat":24.6627,"v":0.55},{"lon":-82.9266,"lat":24.6627,"v":1.4},{"lon":-82.9239,"lat":24.6627,"v":0.9},{"lon":-82.9213,"lat":24.6627,"v":3.1},{"lon":-82.9186,"lat":24.6627,"v":0.9},{"lon":-82.9159,"lat":24.6627,"v":0.9},{"lon":-82.9133,"lat":24.6627,"v":2.2},{"lon":-82.9106,"lat":24.6627,"v":1},{"lon":-82.9079,"lat":24.6627,"v":0.3},{"lon":-82.9052,"lat":24.6627,"v":0.25},
{"lon":-82.9426,"lat":24.6601,"v":0.5},{"lon":-82.94,"lat":24.6601,"v":1.1},{"lon":-82.9373,"lat":24.6601,"v":1.2},{"lon":-82.9346,"lat":24.6601,"v":1.4},{"lon":-82.932,"lat":24.6601,"v":0.4},{"lon":-82.9293,"lat":24.6601,"v":0.9},{"lon":-82.9266,"lat":24.6601,"v":1.9},{"lon":-82.9239,"lat":24.6601,"v":1},{"lon":-82.9213,"lat":24.6601,"v":1},{"lon":-82.9186,"lat":24.6601,"v":1},{"lon":-82.9159,"lat":24.6601,"v":1.4},{"lon":-82.9133,"lat":24.6601,"v":2},{"lon":-82.9106,"lat":24.6601,"v":0.7},{"lon":-82.9079,"lat":24.6601,"v":0.25},{"lon":-82.9052,"lat":24.6601,"v":0.2},
{"lon":-82.9533,"lat":24.6574,"v":0.12},{"lon":-82.9506,"lat":24.6574,"v":1.5},{"lon":-82.948,"lat":24.6574,"v":1.1},{"lon":-82.9453,"lat":24.6574,"v":0.6},{"lon":-82.9426,"lat":24.6574,"v":0.9},{"lon":-82.94,"lat":24.6574,"v":1.6},{"lon":-82.9373,"lat":24.6574,"v":1.8},{"lon":-82.9346,"lat":24.6574,"v":1.8},{"lon":-82.932,"lat":24.6574,"v":0.5},{"lon":-82.9293,"lat":24.6574,"v":1.1},{"lon":-82.9266,"lat":24.6574,"v":3.1},{"lon":-82.9239,"lat":24.6574,"v":1.5},{"lon":-82.9213,"lat":24.6574,"v":1.5},{"lon":-82.9186,"lat":24.6574,"v":4.5},{"lon":-82.9159,"lat":24.6574,"v":2.4},{"lon":-82.9133,"lat":24.6574,"v":3.1},{"lon":-82.9106,"lat":24.6574,"v":0.25},{"lon":-82.9079,"lat":24.6574,"v":0.15},
{"lon":-82.9533,"lat":24.6548,"v":0.12},{"lon":-82.9506,"lat":24.6548,"v":1.8},{"lon":-82.948,"lat":24.6548,"v":1.5},{"lon":-82.9453,"lat":24.6548,"v":0.8},{"lon":-82.9426,"lat":24.6548,"v":0.3},{"lon":-82.94,"lat":24.6548,"v":0.3},{"lon":-82.9373,"lat":24.6548,"v":0.3},{"lon":-82.9346,"lat":24.6548,"v":0.7},{"lon":-82.932,"lat":24.6548,"v":0.7},{"lon":-82.9293,"lat":24.6548,"v":0.5},{"lon":-82.9266,"lat":24.6548,"v":0.9},{"lon":-82.9239,"lat":24.6548,"v":0.9},{"lon":-82.9213,"lat":24.6548,"v":1.3},{"lon":-82.9186,"lat":24.6548,"v":2.2},{"lon":-82.9159,"lat":24.6548,"v":1},{"lon":-82.9133,"lat":24.6548,"v":0.5},{"lon":-82.9106,"lat":24.6548,"v":0.2},{"lon":-82.9079,"lat":24.6548,"v":0.15},
{"lon":-82.9533,"lat":24.6521,"v":0.12},{"lon":-82.9506,"lat":24.6521,"v":2.3},{"lon":-82.948,"lat":24.6521,"v":1.5},{"lon":-82.9453,"lat":24.6521,"v":0.9},{"lon":-82.9426,"lat":24.6521,"v":0.9},{"lon":-82.94,"lat":24.6521,"v":0.7},{"lon":-82.9373,"lat":24.6521,"v":0.5},{"lon":-82.9346,"lat":24.6521,"v":2.4},{"lon":-82.932,"lat":24.6521,"v":1.8},{"lon":-82.9293,"lat":24.6521,"v":1.9},{"lon":-82.9266,"lat":24.6521,"v":3},{"lon":-82.9239,"lat":24.6521,"v":2.2},{"lon":-82.9213,"lat":24.6521,"v":2.3},{"lon":-82.9186,"lat":24.6521,"v":2.4},{"lon":-82.9159,"lat":24.6521,"v":0.5},{"lon":-82.9133,"lat":24.6521,"v":0.25},{"lon":-82.9106,"lat":24.6521,"v":0.2},
{"lon":-82.9426,"lat":24.6495,"v":1.3},{"lon":-82.94,"lat":24.6495,"v":1.2},{"lon":-82.9373,"lat":24.6495,"v":0.7},{"lon":-82.9346,"lat":24.6495,"v":1.3},{"lon":-82.932,"lat":24.6495,"v":1.1},{"lon":-82.9293,"lat":24.6495,"v":0.9},{"lon":-82.9266,"lat":24.6495,"v":1.2},{"lon":-82.9239,"lat":24.6495,"v":1},{"lon":-82.9213,"lat":24.6495,"v":0.9},{"lon":-82.9186,"lat":24.6495,"v":0.4},{"lon":-82.9159,"lat":24.6495,"v":0.15},
{"lon":-82.9453,"lat":24.6468,"v":0.2},{"lon":-82.9426,"lat":24.6468,"v":2.4},{"lon":-82.94,"lat":24.6468,"v":1.9},{"lon":-82.9373,"lat":24.6468,"v":1.5},{"lon":-82.9346,"lat":24.6468,"v":0.9},{"lon":-82.932,"lat":24.6468,"v":0.5},{"lon":-82.9293,"lat":24.6468,"v":0.5},{"lon":-82.9266,"lat":24.6468,"v":0.4},{"lon":-82.9239,"lat":24.6468,"v":0.35},{"lon":-82.9213,"lat":24.6468,"v":0.35},{"lon":-82.9186,"lat":24.6468,"v":0.3},
{"lon":-82.9426,"lat":24.6442,"v":0.35},{"lon":-82.94,"lat":24.6442,"v":0.35},{"lon":-82.9373,"lat":24.6442,"v":0.2},{"lon":-82.9346,"lat":24.6442,"v":0.2},{"lon":-82.932,"lat":24.6442,"v":0.12},{"lon":-82.9293,"lat":24.6442,"v":0.12}
]},"mark":{"type":"rect","width":13.6,"height":14.95},"encoding":{"color":{"field":"v","type":"quantitative"}}},
{"data":{"values":[{"lon":-82.9263,"lat":24.6976},{"lon":-82.935,"lat":24.6896},{"lon":-82.9227,"lat":24.689},{"lon":-82.9293,"lat":24.6801},{"lon":-82.9102,"lat":24.7146},{"lon":-82.9033,"lat":24.707},{"lon":-82.9181,"lat":24.7059},{"lon":-82.9101,"lat":24.6995},{"lon":-82.8996,"lat":24.6996},{"lon":-82.9161,"lat":24.6944},{"lon":-82.9042,"lat":24.6935},{"lon":-82.8953,"lat":24.6923},{"lon":-82.9098,"lat":24.6881},{"lon":-82.9006,"lat":24.6839},{"lon":-82.9168,"lat":24.682},{"lon":-82.9076,"lat":24.678},{"lon":-82.9217,"lat":24.6743},{"lon":-82.9307,"lat":24.669},{"lon":-82.9145,"lat":24.6719},{"lon":-82.9196,"lat":24.6647},{"lon":-82.9268,"lat":24.6592},{"lon":-82.938,"lat":24.6594},{"lon":-82.9149,"lat":24.659},{"lon":-82.9195,"lat":24.6556},{"lon":-82.9487,"lat":24.654},{"lon":-82.9317,"lat":24.6514},{"lon":-82.924,"lat":24.6518},{"lon":-82.94,"lat":24.6479}]},"mark":{"type":"point","shape":"M-1,0H1M0,-1V1","stroke":"black","strokeWidth":3.6,"size":625,"opacity":1,"fill":null,"filled":false}}
]}]}
]}
